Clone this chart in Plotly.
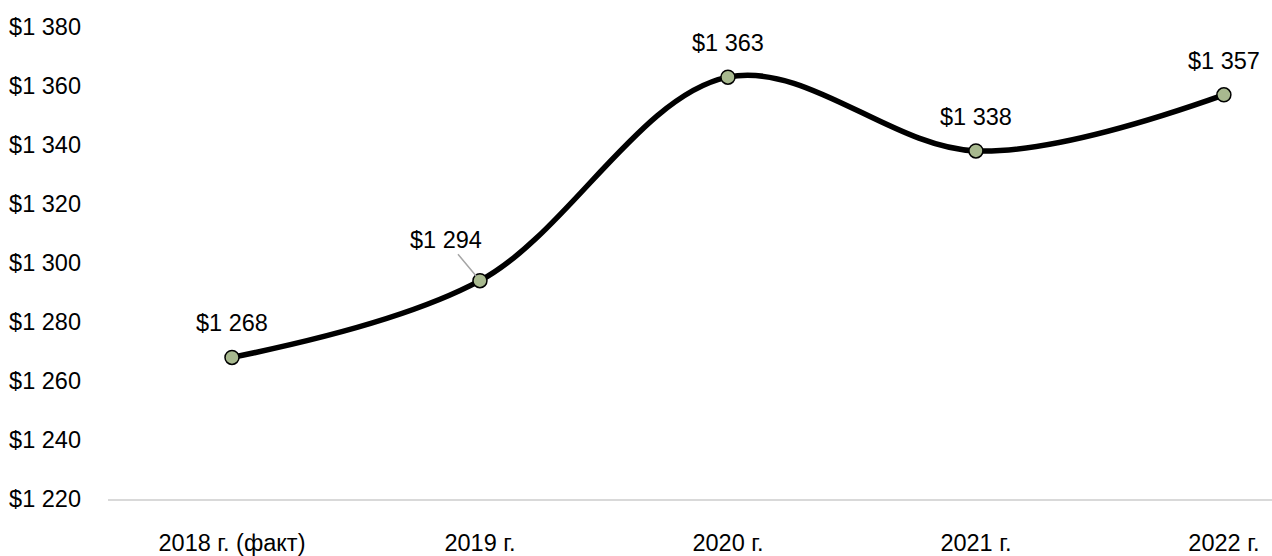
import plotly.graph_objects as go

categories = ["2018 г. (факт)", "2019 г.", "2020 г.", "2021 г.", "2022 г."]
values = [1268, 1294, 1363, 1338, 1357]
y_ticks = [1220, 1240, 1260, 1280, 1300, 1320, 1340, 1360, 1380]
y_tick_labels = ["$1 220", "$1 240", "$1 260", "$1 280", "$1 300", "$1 320", "$1 340", "$1 360", "$1 380"]

def fmt(v):
    return "$" + f"{v:,}".replace(",", " ")

FONT = "Liberation Sans Narrow, Arial Narrow, Liberation Sans, Arial, sans-serif"
FS = 23.5

xs = list(range(len(categories)))

fig = go.Figure()
fig.add_trace(go.Scatter(
    x=xs, y=values, mode="lines+markers",
    line=dict(color="black", width=5.5, shape="spline", smoothing=1.0),
    marker=dict(size=14, color="#a8b98f", line=dict(color="black", width=1.5)),
    hoverinfo="skip", showlegend=False,
))

for i, v in enumerate(values):
    if i == 1:
        fig.add_annotation(x=xs[i], y=v, text=fmt(v), showarrow=True,
                           ax=-34, ay=-41, arrowhead=0, arrowwidth=1.5,
                           arrowcolor="#a6a6a6", standoff=6,
                           font=dict(family=FONT, size=FS, color="black"))
    else:
        fig.add_annotation(x=xs[i], y=v, text=fmt(v), showarrow=False,
                           yshift=34, yanchor="middle",
                           font=dict(family=FONT, size=FS, color="black"))

fig.update_layout(
    width=1272, height=556,
    margin=dict(l=108, r=0, t=27, b=53),
    paper_bgcolor="white", plot_bgcolor="white",
    font=dict(family=FONT, size=FS, color="black"),
    xaxis=dict(
        range=[-0.5, 4.194], tickmode="array", tickvals=xs, ticktext=categories,
        showgrid=False, zeroline=False, showline=True, linecolor="#d9d9d9",
        linewidth=2, ticks="", ticklabelstandoff=22,
        tickfont=dict(family=FONT, size=FS, color="black"),
    ),
    yaxis=dict(
        range=[1220, 1380], tickmode="array", tickvals=y_ticks, ticktext=y_tick_labels,
        showgrid=False, zeroline=False, showline=False, ticks="",
        ticklabelstandoff=26,
        tickfont=dict(family=FONT, size=FS, color="black"),
    ),
)

fig.write_html("out.html")
